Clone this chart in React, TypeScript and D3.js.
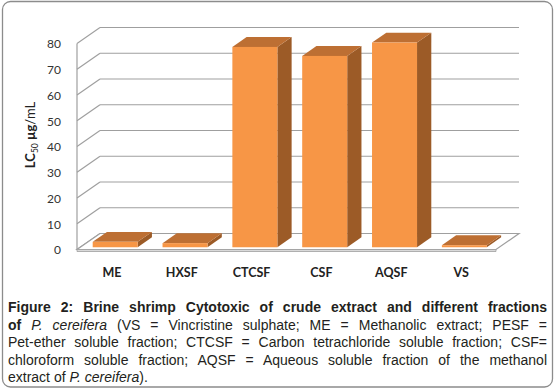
import React, { useEffect, useRef } from "react";
import * as d3 from "d3";

const categories = ["ME", "HXSF", "CTCSF", "CSF", "AQSF", "VS"];
const values = [2.1, 1.6, 77.8, 74.3, 79.5, 0.8];
const yTicks = [0, 10, 20, 30, 40, 50, 60, 70, 80];

const captionLines: { parts: { t: string; w?: string; i?: boolean }[]; justify: boolean }[] = [
  { parts: [{ t: "Figure 2: Brine shrimp Cytotoxic of crude extract and different fractions", w: "bold" }], justify: true },
  {
    parts: [
      { t: "of ", w: "bold" },
      { t: "P. cereifera", i: true },
      { t: " (VS = Vincristine sulphate; ME = Methanolic extract; PESF =" },
    ],
    justify: true,
  },
  { parts: [{ t: "Pet-ether soluble fraction; CTCSF = Carbon tetrachloride soluble fraction; CSF=" }], justify: true },
  { parts: [{ t: "chloroform soluble fraction; AQSF = Aqueous soluble fraction of the methanol" }], justify: true },
  { parts: [{ t: "extract of " }, { t: "P. cereifera", i: true }, { t: ")." }], justify: false },
];

const W = 555;
const H = 390;
const left = 77;
const right = 496;
const base = 249.5;
const DX = 23;
const DY = -16;

export default function App() {
  const capRef = useRef<SVGGElement>(null);

  const x = d3.scaleBand<string>().domain(categories).range([left, right]).paddingInner(0).paddingOuter(0);
  const y = d3.scaleLinear().domain([0, 80]).range([0, 206]);

  useEffect(() => {
    if (!capRef.current) return;
    const g = d3.select(capRef.current);
    g.selectAll<SVGTextElement, unknown>("text.just").each(function () {
      const el = this as SVGTextElement;
      el.setAttribute("word-spacing", "0");
      const len = el.getComputedTextLength();
      const txt = el.textContent || "";
      const spaces = (txt.match(/ /g) || []).length;
      if (spaces > 0) {
        const extra = (539 - len) / spaces;
        el.setAttribute("word-spacing", String(extra));
      }
    });
  }, []);

  const bw = 45;
  const fd = 0.14;
  const bd = 0.76;
  const ddx = (bd - fd) * DX;
  const ddy = (bd - fd) * DY;
  const yb = base + fd * DY;

  const grid = "#9f9f9f";
  const capY = [312, 329.5, 347, 364.5, 382];

  return (
    <svg width={W} height={H} style={{ position: "absolute", left: 0, top: 0 }}>
      <rect x={0} y={0} width={W} height={H} fill="#fff" />
      <rect x={2.5} y={1.5} width={550} height={385.5} rx={8} fill="#fff" stroke="#8c8c8c" strokeWidth={1.3} />

      {/* gridlines */}
      {yTicks.map((t) => {
        const h = y(t);
        return (
          <g key={t}>
            <line x1={left} y1={base - h} x2={left + DX} y2={base + DY - h} stroke={grid} strokeWidth={1.2} />
            {t > 0 && (
              <line x1={left + DX} y1={base + DY - h} x2={right + DX} y2={base + DY - h} stroke={grid} strokeWidth={1.2} />
            )}
          </g>
        );
      })}
      <line x1={left} y1={base} x2={left} y2={base - y(80)} stroke={grid} strokeWidth={1.2} />

      {/* floor */}
      <polygon
        points={`${left},${base} ${right},${base} ${right + DX},${base + DY} ${left + DX},${base + DY}`}
        fill="#fff"
        stroke={grid}
        strokeWidth={1.2}
      />
      <polygon
        points={`${left},${base} ${right},${base} ${right},${base + 2} ${left},${base + 2}`}
        fill="#d9d9d9"
        stroke={grid}
        strokeWidth={0.8}
      />

      {/* bars */}
      {categories.map((c, i) => {
        const x0 = (x(c) as number) + 15.7;
        const h = y(values[i]);
        const yt = yb - h;
        return (
          <g key={c}>
            <polygon
              points={`${x0 + bw},${yt} ${x0 + bw + ddx},${yt + ddy} ${x0 + bw + ddx},${yb + ddy} ${x0 + bw},${yb}`}
              fill="#9c5b27"
            />
            <polygon
              points={`${x0},${yt} ${x0 + bw},${yt} ${x0 + bw + ddx},${yt + ddy} ${x0 + ddx},${yt + ddy}`}
              fill="#bd6f33"
            />
            <rect x={x0} y={yt} width={bw} height={h} fill="#f79646" />
          </g>
        );
      })}

      {/* y tick labels */}
      {yTicks.map((t) => (
        <text
          key={t}
          x={61}
          y={base - y(t) + 1.8}
          textAnchor="end"
          dominantBaseline="middle"
          fontFamily="Lato"
          fontSize={12}
          fill="#333"
        >
          {t}
        </text>
      ))}

      {/* category labels */}
      {categories.map((c) => (
        <text
          key={c}
          x={(x(c) as number) + x.bandwidth() / 2}
          y={277}
          textAnchor="middle"
          fontFamily="Lato"
          fontWeight="bold"
          fontSize={12.5}
          fill="#222"
        >
          {c}
        </text>
      ))}

      {/* y title */}
      <text
        transform="translate(35,135) rotate(-90)"
        textAnchor="middle"
        fontFamily="Lato"
        fontSize={13}
        fill="#222"
      >
        <tspan fontWeight="bold">LC</tspan>
        <tspan fontSize={8.5} dy={3}>50</tspan>
        <tspan dy={-3} fontWeight="bold"> µg</tspan>
        <tspan>/mL</tspan>
      </text>

      {/* caption */}
      <g ref={capRef}>
        {captionLines.map((ln, i) => (
          <text
            key={i}
            className={ln.justify ? "just" : ""}
            x={8}
            y={capY[i]}
            fontFamily="'Liberation Sans', Arial, sans-serif"
            fontSize={14}
            fill="#231f20"
            xmlSpace="preserve"
          >
            {ln.parts.map((p, j) => (
              <tspan key={j} fontWeight={p.w || "normal"} fontStyle={p.i ? "italic" : "normal"}>
                {p.t}
              </tspan>
            ))}
          </text>
        ))}
      </g>
    </svg>
  );
}
